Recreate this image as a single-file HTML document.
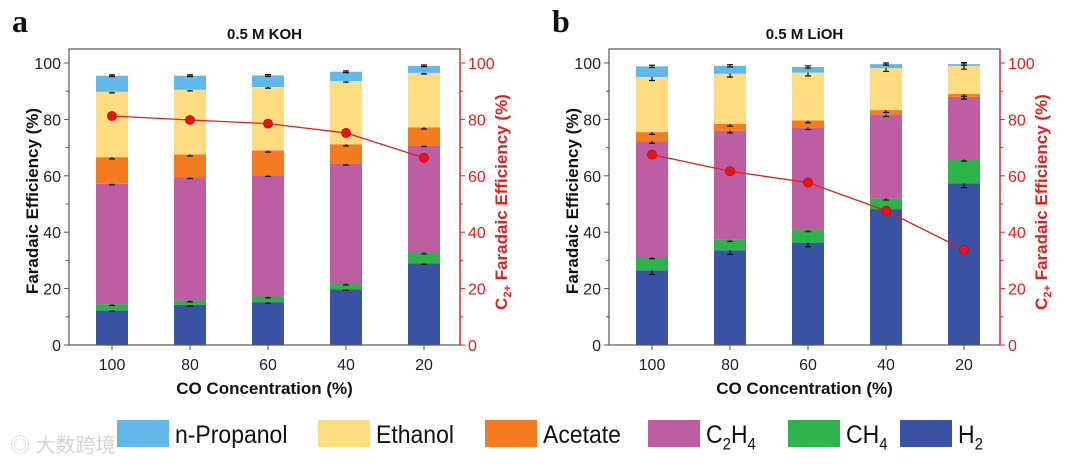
<!DOCTYPE html>
<html><head><meta charset="utf-8"><style>
body{margin:0;background:#fff;width:1080px;height:466px;overflow:hidden;font-family:"Liberation Sans",Arial,sans-serif}
svg{display:block}
</style></head><body>
<svg id="chart" width="1080" height="466" viewBox="0 0 1080 466" xmlns="http://www.w3.org/2000/svg"></svg>
<script>
const categories = ["100","80","60","40","20"];
const seriesNames = ["H2","CH4","C2H4","Acetate","Ethanol","n-Propanol"];
const seriesColors = ["#3a52a4","#2db34a","#bd5ea3","#f47b20","#fedc82","#62b8e8"];
// Panel a (0.5 M KOH)
const aH2 = [12.3,14.2,15.2,19.8,29.0];
const aCH4 = [2.2,1.6,2.0,2.0,3.8];
const aC2H4 = [42.7,43.6,43.0,42.4,38.0];
const aAcetate = [9.4,8.2,8.8,7.0,6.4];
const aEthanol = [23.2,22.9,22.5,22.4,19.3];
const aPropanol = [5.7,5.0,4.1,3.3,2.5];
const aC2plus = [81.2,79.8,78.5,75.2,66.4];
// Panel b (0.5 M LiOH)
const bH2 = [26.5,33.6,36.3,48.2,57.3];
const bCH4 = [4.7,3.7,4.5,3.8,8.5];
const bC2H4 = [41.1,38.7,36.4,29.8,22.2];
const bAcetate = [3.2,2.4,2.4,1.5,1.0];
const bEthanol = [19.5,17.8,17.0,14.9,10.0];
const bPropanol = [3.8,2.8,2.0,1.4,0.6];
const bC2plus = [67.5,61.6,57.6,47.6,33.8];
const aErr = [0.4,0.5,0.4,0.6,0.4,0.3];
const bErr = [1.5,0.6,0.8,0.8,1.2,0.4];
const yTicks = [0,20,40,60,80,100];

const NS="http://www.w3.org/2000/svg";
const svg=document.getElementById('chart');
function mk(tag,attrs,parent){const e=document.createElementNS(NS,tag);for(const k in attrs)e.setAttribute(k,attrs[k]);(parent||svg).appendChild(e);return e;}

function panel(px,letter,title,series,line,err,pname){
  const g=mk('g',{});
  
  
  const L=px+69,R=px+460,T=49,B=345;
  const y=v=>B-v*(B-63)/100;
  const step=78;
  const x=i=>L+43+i*step;
  const bw=32;
  const lt=mk('text',{x:px+12,y:32,'font-family':'"Liberation Serif",serif','font-weight':'bold','font-size':32,fill:'#111'},g);lt.textContent=letter;
  
  
  const tt=mk('text',{x:(L+R)/2,y:39,'text-anchor':'middle','font-weight':'bold','font-size':15,fill:'#111'},g);tt.textContent=title;
  
  
  categories.forEach((c,i)=>{
    let cum=0;
    series.forEach((s,k)=>{
      const v=s[i];
      const r=mk('rect',{x:x(i)-bw/2,y:y(cum+v),width:bw,height:y(cum)-y(cum+v),fill:seriesColors[k]},g);
      
      
      cum+=v;
      const e=err[k];
      mk('path',{d:`M${x(i)} ${y(cum-e)}V${y(cum+e)}M${x(i)-3} ${y(cum-e)}H${x(i)+3}M${x(i)-3} ${y(cum+e)}H${x(i)+3}`,stroke:'#111','stroke-width':1.2,fill:'none'},g);
    });
  });
  mk('rect',{x:L,y:T,width:R-L,height:B-T,fill:'none',stroke:'#555','stroke-width':1.2},g);
  mk('line',{x1:R,y1:T,x2:R,y2:B,stroke:'#e0211f','stroke-width':1.3},g);
  for(let v=0;v<=100;v+=10){
    const len=v%20===0?5:3;
    mk('line',{x1:L-len,y1:y(v),x2:L,y2:y(v),stroke:'#555','stroke-width':1},g);
    mk('line',{x1:R,y1:y(v),x2:R+len,y2:y(v),stroke:'#e0211f','stroke-width':1},g);
  }
  yTicks.forEach(v=>{
    const t=mk('text',{x:L-8,y:y(v)+6,'text-anchor':'end','font-size':16,fill:'#222'},g);t.textContent=v;
    
    
    const t2=mk('text',{x:R+8,y:y(v)+6,'font-size':16,fill:'#e0211f'},g);t2.textContent=v;
    
    
  });
  categories.forEach((c,i)=>{
    mk('line',{x1:x(i),y1:B,x2:x(i),y2:B+5,stroke:'#555'},g);
    const t=mk('text',{x:x(i),y:B+25,'text-anchor':'middle','font-size':16,fill:'#222'},g);t.textContent=c;
    
    
  });
  const xt=mk('text',{x:(L+R)/2,y:394,'text-anchor':'middle','font-size':17,'font-weight':'bold',fill:'#111'},g);xt.textContent='CO Concentration (%)';
  
  
  const yt=mk('text',{transform:`translate(${px+38},${(T+B)/2+4}) rotate(-90)`,'text-anchor':'middle','font-size':17,'font-weight':'bold',fill:'#111'},g);yt.textContent='Faradaic Efficiency (%)';
  
  
  const y2=mk('text',{transform:`translate(${R+47},${(T+B)/2+5}) rotate(-90)`,'text-anchor':'middle','font-size':17,'font-weight':'bold',fill:'#e0211f'},g);
  y2.innerHTML='C<tspan font-size="11" dy="4">2+</tspan><tspan dy="-4"> Faradaic Efficiency (%)</tspan>';
  
  
  const pts=line.map((v,i)=>x(i)+','+y(v)).join(' ');
  const pl=mk('polyline',{points:pts,fill:'none',stroke:'#e0211f','stroke-width':1.3},g);
  
  
  line.forEach((v,i)=>{
    const c=mk('circle',{cx:x(i),cy:y(v),r:4.5,fill:'#e8141a',stroke:'#c00',"stroke-width":0.8},g);
    
    
  });
}
panel(0,'a','0.5 M KOH',[aH2,aCH4,aC2H4,aAcetate,aEthanol,aPropanol],aC2plus,aErr,'panel-a-koh');
panel(540,'b','0.5 M LiOH',[bH2,bCH4,bC2H4,bAcetate,bEthanol,bPropanol],bC2plus,bErr,'panel-b-lioh');

const legendX=[117,318,485,648,788,900];
const legendLabels=['n-Propanol','Ethanol','Acetate','C2H4','CH4','H2'];
const legendColors=['#62b8e8','#fedc82','#f47b20','#bd5ea3','#2db34a','#3a52a4'];
legendLabels.forEach((l,i)=>{
  const g=mk('g',{});
  
  
  mk('rect',{x:legendX[i],y:420,width:52,height:27,fill:legendColors[i]},g);
  const t=mk('text',{x:legendX[i]+58,y:443,'font-size':23,fill:'#111',transform:`translate(${legendX[i]+58},443) scale(1,1.08) translate(${-(legendX[i]+58)},-443)`},g);
  if(l==='C2H4') t.innerHTML='C<tspan font-size="15" dy="6">2</tspan><tspan dy="-6">H</tspan><tspan font-size="15" dy="6">4</tspan>';
  else if(l==='CH4') t.innerHTML='CH<tspan font-size="15" dy="6">4</tspan>';
  else if(l==='H2') t.innerHTML='H<tspan font-size="15" dy="6">2</tspan>';
  else t.textContent=l;
});
const wm=mk('text',{x:10,y:452,'font-size':20,fill:'#d4d4d4','font-family':'"Liberation Sans","Noto Sans CJK SC",sans-serif'});
wm.textContent='◎ 大数跨境';


</script>
</body></html>
